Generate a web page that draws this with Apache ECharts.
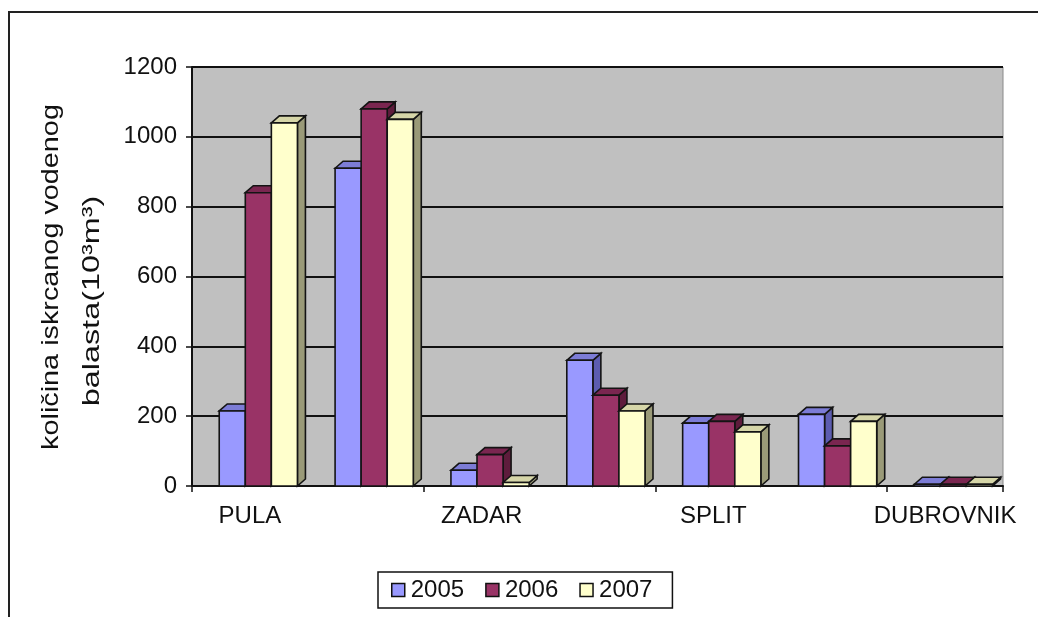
<!DOCTYPE html>
<html>
<head>
<meta charset="utf-8">
<script src="https://cdn.jsdelivr.net/npm/echarts@6/dist/echarts.min.js"></script>
<style>
  html, body { margin: 0; padding: 0; background: #fff; }
  #chart { width: 1038px; height: 617px; }
</style>
</head>
<body>
<div id="chart"></div>
<script>
// Ports along the coast (every other label is shown on the axis)
const ports = ['PULA', 'RIJEKA', 'ZADAR', 'ŠIBENIK', 'SPLIT', 'PLOČE', 'DUBROVNIK'];
const years = ['2005', '2006', '2007'];

// Discharged ballast water, thousands of m³
const y2005 = [215, 910, 45, 360, 180, 205, 5];
const y2006 = [840, 1080, 90, 260, 185, 115, 5];
const y2007 = [1040, 1050, 10, 215, 155, 185, 5];

const yTicks = { min: 0, max: 1200, interval: 200 };

// front, side (shaded) and top face colours per year
const faces = [
  { front: '#9999ff', side: '#5c5cb0', top: '#7c7cd6' },
  { front: '#993366', side: '#5e1c3c', top: '#7a2650' },
  { front: '#ffffcc', side: '#9a9a78', top: '#d6d6a8' }
];

const seriesValues = [y2005, y2006, y2007];

// Draws one column as a box: front face, right side and top
function columnRenderer(si) {
  return function (params, api) {
    const idx = api.value(0);
    const v = api.value(1);
    const base = api.coord([idx, 0]);
    const top = api.coord([idx, v]);
    const band = api.size([1, 0])[0];
    const bw = band * 0.225;
    const x0 = base[0] - band / 2 + band * 0.235 + si * bw;
    const yb = base[1];
    const yt = top[1];
    const dx = 8, dy = 7;
    const c = faces[si];
    const edge = { stroke: '#141414', lineWidth: 1.6 };
    return {
      type: 'group',
      children: [
        {
          type: 'polygon',
          shape: { points: [[x0 + bw, yt], [x0 + bw + dx, yt - dy], [x0 + bw + dx, yb - dy], [x0 + bw, yb]] },
          style: Object.assign({ fill: c.side }, edge)
        },
        {
          type: 'polygon',
          shape: { points: [[x0, yt], [x0 + dx, yt - dy], [x0 + bw + dx, yt - dy], [x0 + bw, yt]] },
          style: Object.assign({ fill: c.top }, edge)
        },
        {
          type: 'rect',
          shape: { x: x0, y: yt, width: bw, height: yb - yt },
          style: Object.assign({ fill: c.front }, edge)
        }
      ]
    };
  };
}

const chart = echarts.init(document.getElementById('chart'), null, { renderer: 'canvas' });

const font = '"Liberation Sans", Arial, sans-serif';

chart.setOption({
  animation: false,
  backgroundColor: '#ffffff',
  textStyle: { fontFamily: font },
  grid: {
    left: 192, top: 67, right: 35, bottom: 131,
    show: true,
    backgroundColor: '#c0c0c0',
    borderColor: '#8a8a8a',
    borderWidth: 1
  },
  legend: {
    left: 378, top: 572,
    orient: 'horizontal',
    padding: [6, 20, 6, 13],
    itemGap: 21,
    itemWidth: 13, itemHeight: 13,
    borderColor: '#111', borderWidth: 1.5,
    backgroundColor: '#fff',
    textStyle: { fontSize: 24, color: '#111', fontFamily: font, padding: [0, 0, 0, 1] },
    data: years.map((y, i) => ({
      name: y,
      icon: 'rect',
      itemStyle: { color: faces[i].front, borderColor: '#111', borderWidth: 1.5 }
    }))
  },
  xAxis: {
    type: 'category',
    data: ports,
    boundaryGap: true,
    axisLine: { lineStyle: { color: '#111', width: 2 } },
    axisTick: { show: true, length: 6, lineStyle: { color: '#111', width: 1.5 } },
    axisLabel: { interval: 1, fontSize: 24, color: '#111', margin: 18, fontFamily: font },
    splitLine: { show: false }
  },
  yAxis: {
    type: 'value',
    min: yTicks.min, max: yTicks.max, interval: yTicks.interval,
    axisLine: { show: true, lineStyle: { color: '#111', width: 2 } },
    axisTick: { show: true, length: 6, lineStyle: { color: '#111', width: 1.5 } },
    axisLabel: { fontSize: 24, color: '#111', margin: 15, fontFamily: font, formatter: (v) => String(v) },
    splitLine: { show: true, lineStyle: { color: '#111', width: 2 } }
  },
  graphic: [
    {
      type: 'rect',
      silent: true,
      shape: { x: 9, y: 12, width: 1200, height: 800 },
      style: { fill: 'none', stroke: '#222', lineWidth: 2 },
      z: -1
    },
    {
      type: 'text',
      x: 51, y: 277,
      rotation: Math.PI / 2,
      scaleX: 1.2,
      style: {
        text: 'količina iskrcanog vodenog',
        fontSize: 24, fontFamily: font, fill: '#111',
        align: 'center', verticalAlign: 'middle'
      }
    },
    {
      type: 'text',
      x: 92, y: 301,
      rotation: Math.PI / 2,
      scaleX: 1.35,
      style: {
        text: 'balasta(10³m³)',
        fontSize: 24, fontFamily: font, fill: '#111',
        align: 'center', verticalAlign: 'middle'
      }
    }
  ],
  series: years.map((y, si) => ({
    name: y,
    type: 'custom',
    renderItem: columnRenderer(si),
    itemStyle: { color: faces[si].front },
    encode: { x: 0, y: 1 },
    data: seriesValues[si].map((v, i) => [i, v])
  }))
});
</script>
</body>
</html>
